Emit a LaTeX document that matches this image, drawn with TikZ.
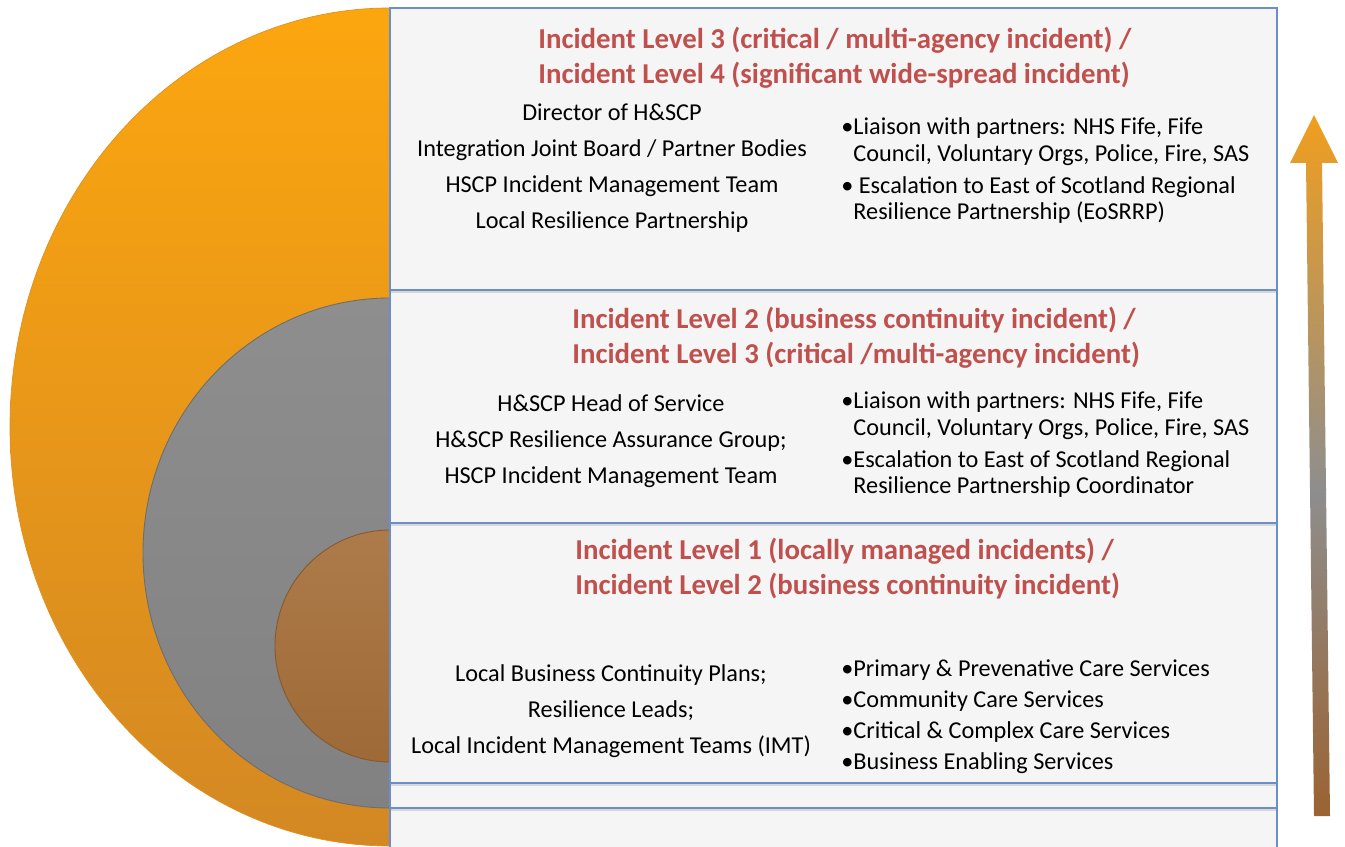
\documentclass[tikz,border=0pt]{standalone}
\usepackage{fontspec}
\setmainfont{Carlito}
\usetikzlibrary{shadows}

\definecolor{ringorange}{HTML}{FCA60F}
\definecolor{ringorangedk}{HTML}{D38823}
\definecolor{ringgray}{HTML}{888888}
\definecolor{ringbrown}{HTML}{A66F3A}
\definecolor{boxblue}{HTML}{6C8EC8}
\definecolor{boxfill}{HTML}{F5F5F5}
\definecolor{titlered}{HTML}{C0504D}
\definecolor{arroworange}{HTML}{F09E1E}
\definecolor{arrowgray}{HTML}{8E8E8E}
\definecolor{arrowbrown}{HTML}{9A6332}

\tikzset{
	levelbox/.style={draw=boxblue, line width=1.1pt, fill=boxfill,
		drop shadow={shadow xshift=0pt, shadow yshift=-1.5pt, opacity=0.25}},
	leveltitle/.style={font=\bfseries\fontsize{16.4}{19.8}\selectfont, text=titlered, align=left, anchor=west, inner sep=0pt},
	leadtext/.style={font=\fontsize{13.8}{20.4}\selectfont, align=center},
	bullettext/.style={font=\fontsize{13.8}{15.3}\selectfont, align=left, anchor=west, inner sep=0pt}
}

\begin{document}
\begin{tikzpicture}[x=0.02cm, y=-0.02cm]

	\useasboundingbox (0,0) rectangle (1345,847);

	% rings
	\shade [top color=ringorange, bottom color=ringorangedk, draw=ringorangedk!70!ringorange, line width=0.4pt]
		(390,8) arc [start angle=270, end angle=90, x radius=380, y radius=419] -- cycle;
	\shade [top color=ringgray!95!white, bottom color=ringgray!95!black, draw=ringgray!80!black, line width=0.5pt]
		(390,298) arc [start angle=270, end angle=90, x radius=247, y radius=255] -- cycle;
	\shade [top color=ringbrown!92!white, bottom color=ringbrown!95!black, draw=ringbrown!80!black, line width=0.5pt]
		(390,530) arc [start angle=270, end angle=90, x radius=115, y radius=116] -- cycle;

	% boxes
	\draw [levelbox] (390,808) rectangle (1277,870);
	\draw [levelbox] (390,783) rectangle (1277,808);
	\draw [levelbox] (390,523) rectangle (1277,783);
	\draw [levelbox] (390,290) rectangle (1277,523);
	\draw [levelbox] (390,8) rectangle (1277,290);

	% level 3 / 4
	\node [leveltitle] (title34) at (538, 57.5) {Incident Level 3 (critical / multi-agency incident) /\\
		Incident Level 4 (significant wide-spread incident)};
	\node [leadtext] (lead34) at (612, 168) {Director of H\&SCP\\
		Integration Joint Board / Partner Bodies\\
		HSCP Incident Management Team\\
		Local Resilience Partnership};
	\node [bullettext] (liaison34) at (841, 141.5) {•Liaison with partners: NHS Fife, Fife\\
		\hphantom{•}Council, Voluntary Orgs, Police, Fire, SAS};
	\node [bullettext] (escal34) at (841, 200) {• Escalation to East of Scotland Regional\\
		\hphantom{•}Resilience Partnership (EoSRRP)};

	% level 2 / 3
	\node [leveltitle] (title23) at (572, 337.5) {Incident Level 2 (business continuity incident) /\\
		Incident Level 3 (critical /multi-agency incident)};
	\node [leadtext] (lead23) at (611, 441) {H\&SCP Head of Service\\
		H\&SCP Resilience Assurance Group;\\
		HSCP Incident Management Team};
	\node [bullettext] (liaison23) at (841, 416) {•Liaison with partners: NHS Fife, Fife\\
		\hphantom{•}Council, Voluntary Orgs, Police, Fire, SAS};
	\node [bullettext] (escal23) at (841, 474) {•Escalation to East of Scotland Regional\\
		\hphantom{•}Resilience Partnership Coordinator};

	% level 1 / 2
	\node [leveltitle] (title12) at (575, 568.5) {Incident Level 1 (locally managed incidents) /\\
		Incident Level 2 (business continuity incident)};
	\node [leadtext] (lead12) at (611, 711) {Local Business Continuity Plans;\\
		Resilience Leads;\\
		Local Incident Management Teams (IMT)};
	\node [bullettext, font=\fontsize{13.8}{17.6}\selectfont] (services12) at (841, 716.5) {•Primary \& Prevenative Care Services\\
		•Community Care Services\\
		•Critical \& Complex Care Services\\
		•Business Enabling Services};

	% escalation arrow
	\shade [top color=arroworange, bottom color=arrowgray]
		(1310,490) -- (1326,490) -- (1322,163) -- (1338,163) -- (1314,115)
		-- (1290,163) -- (1306,163) -- cycle;
	\shade [top color=arrowgray, bottom color=arrowbrown]
		(1314,816) -- (1330,816) -- (1326,489) -- (1310,489) -- cycle;

\end{tikzpicture}
\end{document}
